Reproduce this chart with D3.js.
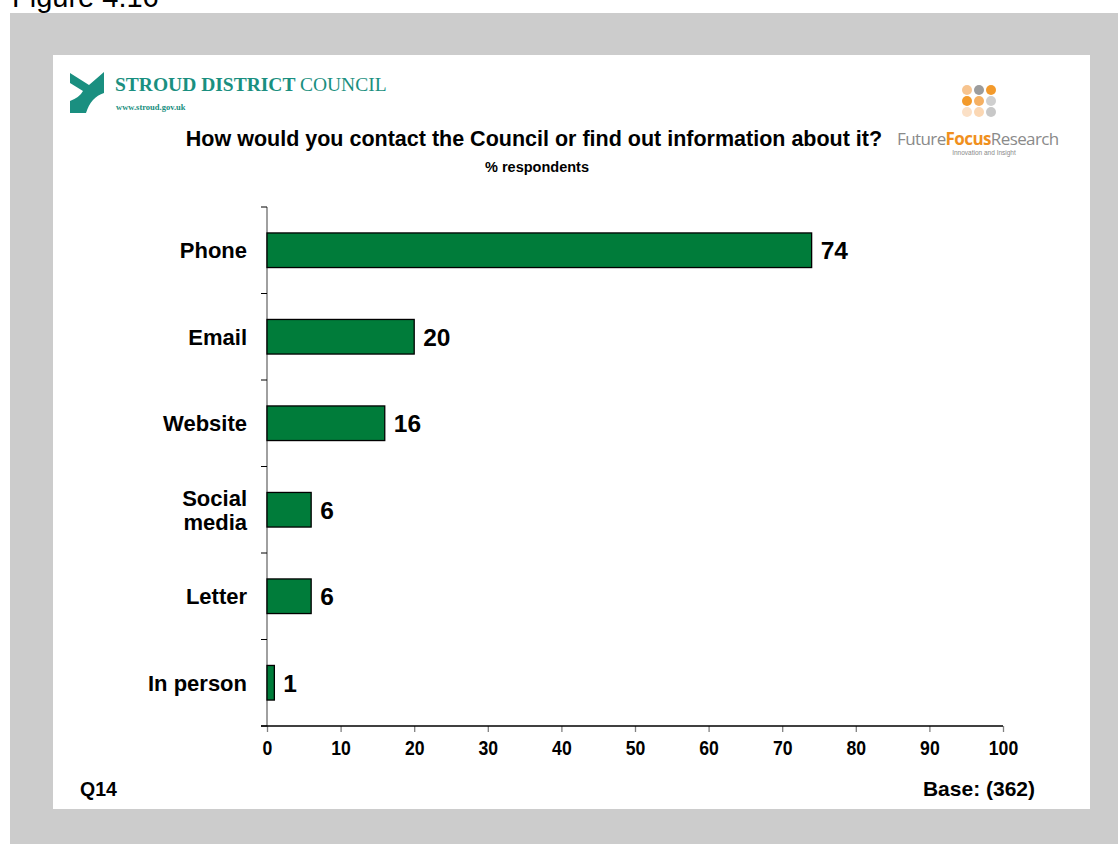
<!DOCTYPE html>
<html>
<head>
<meta charset="utf-8">
<script src="https://cdn.jsdelivr.net/npm/d3@7/dist/d3.min.js"></script>
<style>
  html, body { margin: 0; padding: 0; background: #ffffff; }
  svg { display: block; }
</style>
</head>
<body>
<svg id="chart" width="1118" height="844" font-family="Arial, 'Liberation Sans', sans-serif"></svg>
<script>
// Survey responses: how residents would contact the Council
const categories = ["Phone", "Email", "Website", "Social media", "Letter", "In person"];
const categoryLines = [["Phone"], ["Email"], ["Website"], ["Social", "media"], ["Letter"], ["In person"]];
const percentages = [74, 20, 16, 6, 6, 1];
const xTicks = [0, 10, 20, 30, 40, 50, 60, 70, 80, 90, 100];

const svg = d3.select("#chart");

// Page frame: grey surround with white slide panel
svg.append("rect").attr("x", 10).attr("y", 13).attr("width", 1108).attr("height", 831).attr("fill", "#cccccc");
svg.append("rect").attr("x", 53).attr("y", 55).attr("width", 1037).attr("height", 754).attr("fill", "#ffffff");

svg.append("text").attr("x", 12).attr("y", 7).attr("font-size", 29).attr("fill", "#000")
  .text("Figure 4.16");

// Stroud District Council logo
const teal = "#1a8f80";
svg.append("path")
  .attr("d", "M70,73 L89,85 Q96,79 104,72 L104,93 Q91,97 86,113 L70,113 L70,101 Q80,97 83,91 L70,83 Z")
  .attr("fill", teal);
const sdc = svg.append("text").attr("x", 115).attr("y", 91).attr("font-size", 19.5)
  .attr("fill", teal).attr("font-family", "'Liberation Serif', 'DejaVu Serif', serif");
sdc.append("tspan").attr("font-weight", "bold").text("STROUD DISTRICT ");
sdc.append("tspan").text("COUNCIL");
svg.append("text").attr("x", 116).attr("y", 110).attr("font-size", 8.5).attr("fill", teal)
  .attr("font-weight", "bold").attr("font-family", "'Liberation Serif', serif").text("www.stroud.gov.uk");

// Future Focus Research logo
const dotColors = [
  ["#f7c48f", "#9c9c9c", "#f39a2b"],
  ["#f39a2b", "#f5b063", "#cfcfcf"],
  ["#fbe0c6", "#fbd7b3", "#c8c8c8"]
];
dotColors.forEach((row, r) => row.forEach((c, k) => {
  svg.append("circle").attr("cx", 967 + k * 12).attr("cy", 90 + r * 11).attr("r", 5).attr("fill", c);
}));
const ffr = svg.append("text").attr("x", 897).attr("y", 145).attr("font-size", 17).attr("fill", "#8a8a8a")
  .attr("font-family", "'Open Sans', Arial, sans-serif").attr("letter-spacing", -0.6);
ffr.append("tspan").text("Future");
ffr.append("tspan").attr("fill", "#f0901e").attr("font-weight", "bold").text("Focus");
ffr.append("tspan").text("Research");
svg.append("text").attr("x", 984).attr("y", 155).attr("font-size", 6.5).attr("fill", "#8a8a8a")
  .attr("text-anchor", "middle").text("Innovation and Insight");

// Titles
svg.append("text").attr("x", 534).attr("y", 146).attr("text-anchor", "middle")
  .attr("font-size", 21.5).attr("font-weight", "bold").text("How would you contact the Council or find out information about it?");
svg.append("text").attr("x", 537).attr("y", 172).attr("text-anchor", "middle")
  .attr("font-size", 14.5).attr("font-weight", "bold").text("% respondents");

// Scales
const x = d3.scaleLinear().domain([0, 100]).range([267, 1003]);
const y = d3.scaleBand().domain(categories).range([207, 726]).paddingInner(0.6).paddingOuter(0.3);
const step = y.step();

// Y axis line with ticks at category boundaries
svg.append("line").attr("x1", x(0)).attr("x2", x(0)).attr("y1", 207).attr("y2", 726)
  .attr("stroke", "#808080").attr("stroke-width", 1.5);
const yTickPos = d3.range(categories.length + 1).map(i => y.range()[0] + i * step);
svg.selectAll(".ytick").data(yTickPos).join("line")
  .attr("x1", x(0) - 6).attr("x2", x(0)).attr("y1", d => d).attr("y2", d => d)
  .attr("stroke", "#000").attr("stroke-width", 1);

// X axis
const xAxis = svg.append("g").attr("transform", "translate(0,726)")
  .call(d3.axisBottom(x).tickValues(xTicks).tickSize(6).tickSizeOuter(0).tickPadding(8));
xAxis.select(".domain").remove();
xAxis.selectAll(".tick line").attr("stroke", "#808080").attr("stroke-width", 1.3);
xAxis.selectAll(".tick text")
  .attr("font-family", "Arial, 'Liberation Sans', sans-serif")
  .attr("font-size", 21).attr("font-weight", "bold").attr("fill", "#000")
  .attr("transform", "scale(0.84,1)");
svg.append("line").attr("x1", x(0) - 6).attr("x2", x(100)).attr("y1", 726).attr("y2", 726)
  .attr("stroke", "#000").attr("stroke-width", 1.5);

// Bars
svg.selectAll(".bar").data(categories).join("rect")
  .attr("x", x(0)).attr("y", d => y(d))
  .attr("width", (d, i) => x(percentages[i]) - x(0)).attr("height", y.bandwidth())
  .attr("fill", "#007c3a").attr("stroke", "#000").attr("stroke-width", 1.3);

// Value labels
svg.selectAll(".val").data(categories).join("text")
  .attr("x", (d, i) => x(percentages[i]) + 9).attr("y", d => y(d) + y.bandwidth() / 2 + 9)
  .attr("font-size", 24.5).attr("font-weight", "bold").text((d, i) => percentages[i]);

// Category labels
categories.forEach((c, i) => {
  const lines = categoryLines[i];
  const cy = y(c) + y.bandwidth() / 2;
  const lh = 24;
  const t = svg.append("text").attr("text-anchor", "end").attr("font-size", 22).attr("font-weight", "bold");
  lines.forEach((ln, j) => {
    t.append("tspan").attr("x", 247).attr("y", cy + 8 + (j - (lines.length - 1) / 2) * lh).text(ln);
  });
});

// Footer
svg.append("text").attr("x", 80).attr("y", 796).attr("font-size", 19.5).attr("font-weight", "bold").text("Q14");
svg.append("text").attr("x", 1035).attr("y", 796).attr("text-anchor", "end")
  .attr("font-size", 21).attr("font-weight", "bold").text("Base: (362)");
</script>
</body>
</html>
